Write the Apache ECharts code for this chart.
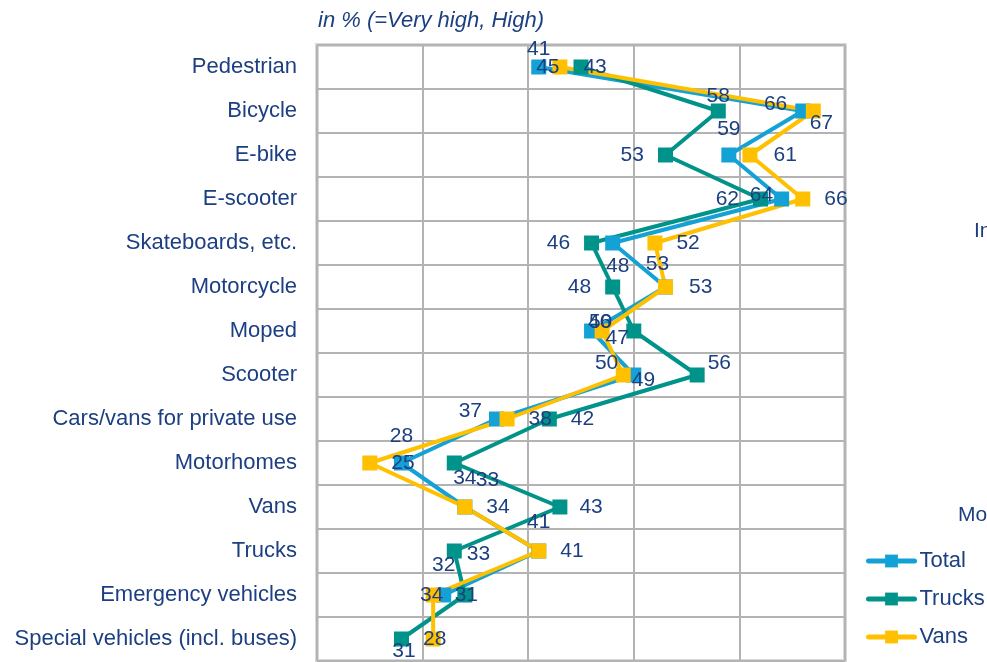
<!DOCTYPE html>
<html>
<head>
<meta charset="utf-8">
<script src="https://cdn.jsdelivr.net/npm/echarts@6/dist/echarts.min.js"></script>
<style>
  html, body { margin: 0; padding: 0; background: #fff; }
  #chart { width: 987px; height: 662px; }
</style>
</head>
<body>
<div id="chart"></div>
<script>
  // categories top to bottom
  var categories = ['Pedestrian', 'Bicycle', 'E-bike', 'E-scooter', 'Skateboards, etc.', 'Motorcycle',
    'Moped', 'Scooter', 'Cars/vans for private use', 'Motorhomes', 'Vans', 'Trucks',
    'Emergency vehicles', 'Special vehicles (incl. buses)'];

  // in % (=Very high, High)
  var total  = [41, 66, 59, 64, 48, 53, 46, 50, 37, 28, 34, 41, 32, null];
  var trucks = [45, 58, 53, 62, 46, 48, 50, 56, 42, 33, 43, 33, 34, 28];
  var vans   = [43, 67, 61, 66, 52, 53, 47, 49, 38, 25, 34, 41, 31, 31];

  // label placement per point: [position, dx, dy] (hand placed like in the original)
  var totalLabel = [['top', 0, 14], ['left', 6, -7], ['top', 0, 6], ['left', 13, -4], ['bottom', 5, -9],
    ['top', -8, 9], ['top', 8, 23], ['left', 6, -12], ['left', 7, -8], ['top', 0, 5], ['top', 0, 3],
    ['top', 0, 3], ['top', 0, 2], ['top', 0, 0]];
  var trucksLabel = [['left', 0, 0], ['top', 0, 17], ['left', 0, 0], ['left', 0, 0], ['left', 0, 0],
    ['left', 0, 0], ['left', 0, -9], ['right', -11, -12], ['right', 0, 0], ['right', 0, 17], ['right', -2, 0],
    ['right', -9, 3], ['left', 0, 0], ['right', 0, 0]];
  var vansLabel = [['right', 2, 0], ['bottom', 8, -20], ['right', 2, 0], ['right', 0, 0], ['right', 0, 0],
    ['right', 2, 0], ['right', -18, 7], ['right', -13, 5], ['right', 0, 0], ['right', 0, 0], ['right', 0, 0],
    ['right', 0, 0], ['right', 0, 0], ['left', 4, 12]];

  var textColor = '#1c3f82';
  var font = 'Liberation Sans, Arial, sans-serif';

  function build(values, labels) {
    return values.map(function (v, i) {
      var l = labels[i];
      return { value: v == null ? '-' : v, label: { position: l[0], offset: [l[1], l[2]] } };
    });
  }

  function lineSeries(name, color, values, labels) {
    return {
      name: name,
      type: 'line',
      data: build(values, labels),
      symbol: 'rect',
      symbolSize: 15,
      lineStyle: { color: color, width: 4 },
      itemStyle: { color: color },
      label: {
        show: true,
        color: textColor,
        fontSize: 21,
        fontFamily: font,
        distance: 14
      },
      emphasis: { disabled: true },
      animation: false
    };
  }

  var myChart = echarts.init(document.getElementById('chart'));
  var option = {
    backgroundColor: '#fff',
    textStyle: { fontFamily: font },
    grid: {
      left: 317, right: 142, top: 45, bottom: 1,
      show: true, borderColor: '#d9d9d9', borderWidth: 4
    },
    graphic: [
      { type: 'text', left: 318, top: 10,
        style: { text: 'in % (=Very high, High)', fill: textColor, fontSize: 22,
                 fontStyle: 'italic', fontFamily: font } },
      { type: 'text', left: 974, top: 221,
        style: { text: 'In', fill: textColor, fontSize: 21, fontFamily: font } },
      { type: 'text', left: 958, top: 505,
        style: { text: 'Mo', fill: textColor, fontSize: 21, fontFamily: font } }
    ],
    legend: {
      orient: 'vertical',
      left: 861,
      top: 545,
      itemWidth: 46,
      itemHeight: 16,
      itemGap: 16,
      lineStyle: { width: 5, cap: 'round' },
      textStyle: { color: textColor, fontSize: 22, fontFamily: font },
      data: ['Total', 'Trucks', 'Vans']
    },
    xAxis: {
      type: 'value',
      min: 20,
      max: 70,
      interval: 10,
      axisLabel: { show: false },
      axisLine: { show: false },
      axisTick: { show: false },
      splitLine: { show: true, lineStyle: { color: '#b3b3b3', width: 2 } }
    },
    yAxis: {
      type: 'category',
      inverse: true,
      data: categories,
      axisLine: { show: false },
      axisTick: { show: false },
      axisLabel: { color: textColor, fontSize: 22, fontFamily: font, margin: 20 },
      splitLine: { show: true, lineStyle: { color: '#b3b3b3', width: 2 } }
    },
    series: [
      lineSeries('Total', '#14a1d6', total, totalLabel),
      lineSeries('Trucks', '#00938a', trucks, trucksLabel),
      lineSeries('Vans', '#ffc000', vans, vansLabel)
    ]
  };
  myChart.setOption(option);
</script>
</body>
</html>
